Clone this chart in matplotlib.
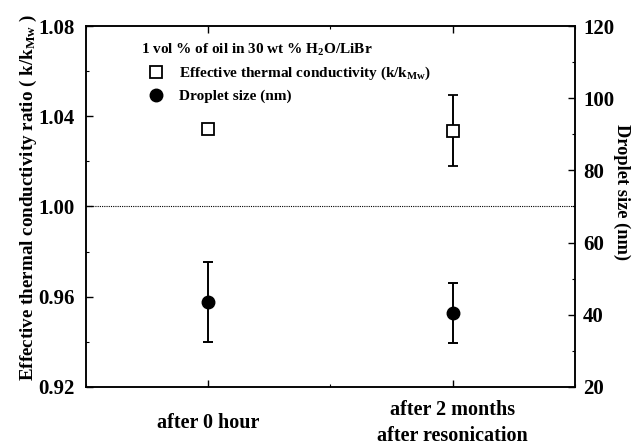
import matplotlib
matplotlib.use("Agg")
import matplotlib.pyplot as plt
from matplotlib.lines import Line2D
from matplotlib.ticker import MultipleLocator

plt.rcParams['font.family'] = ['Liberation Serif', 'DejaVu Serif']
plt.rcParams['font.weight'] = 'bold'
plt.rcParams['mathtext.fontset'] = 'custom'
plt.rcParams['mathtext.rm'] = 'Liberation Serif:bold'
plt.rcParams['mathtext.bf'] = 'Liberation Serif:bold'
plt.rcParams['mathtext.it'] = 'Liberation Serif:bold:italic'

# data
categories = ["after 0 hour", "after 2 months\nafter resonication"]
k_ratio = [1.0343, 1.0335]
k_ratio_err = [0.0015, 0.0157]
droplet_nm = [43.5, 40.5]
droplet_err = [11.0, 8.3]
ref_ratio = 1.00

x = [1, 2]

fig = plt.figure(figsize=(6.38, 4.46), dpi=100)
ax = fig.add_axes([0.135, 0.1323, 0.766, 0.8094])
ax2 = ax.twinx()

ax.axhline(ref_ratio, color='black', lw=0.8, ls=(0, (1, 1)))

ax.errorbar(x, k_ratio, yerr=k_ratio_err, fmt='s', color='black', mfc='white',
            mec='black', mew=1.3, ms=8, capsize=3.5, elinewidth=1.4, capthick=1.4, zorder=5)
ax2.errorbar(x, droplet_nm, yerr=droplet_err, fmt='o', color='black',
             ms=9, capsize=3.5, elinewidth=1.4, capthick=1.4, zorder=5)

ax.set_xlim(0.5, 2.5)
ax.set_ylim(0.92, 1.08)
ax2.set_ylim(20, 120)

ax.set_xticks(x)
ax.set_xticklabels(categories, fontsize=14.5, fontweight='bold', linespacing=1.4)
for lab in ax.get_xticklabels():
    lab.set_va('center')
ax.xaxis.set_minor_locator(MultipleLocator(0.5))
ax.set_yticks([0.92, 0.96, 1.00, 1.04, 1.08])
ax.set_yticklabels(["0.92", "0.96", "1.00", "1.04", "1.08"])
ax.yaxis.set_minor_locator(MultipleLocator(0.02))
ax2.yaxis.set_major_locator(MultipleLocator(20))
ax2.yaxis.set_minor_locator(MultipleLocator(10))

ax.tick_params(axis='both', which='both', direction='in', top=True, right=False)
ax.tick_params(axis='both', which='major', length=5, width=1.0)
ax.tick_params(axis='both', which='minor', length=2.5, width=0.8)
ax.tick_params(axis='x', which='major', pad=26)
ax.tick_params(axis='y', which='major', labelsize=15, pad=8)
ax2.tick_params(axis='y', which='both', direction='in')
ax2.tick_params(axis='y', which='major', length=5, width=1.0, labelsize=15, pad=6)
ax2.tick_params(axis='y', which='minor', length=2.5, width=0.8)

for a in (ax, ax2):
    for s in a.spines.values():
        s.set_linewidth(1.1)

ax.set_ylabel("Effective thermal conductivity ratio ( k/k$_{\\rm Mw}$ )",
              fontsize=13.7, fontweight='bold')
ax.yaxis.set_label_coords(-0.097, 0.526)
ax2.set_ylabel("Droplet size (nm)", fontsize=13.2, fontweight='bold',
               rotation=270, va='center')
ax2.yaxis.set_label_coords(1.095, 0.54)

handles = [
    Line2D([], [], marker='s', ls='none', mfc='white', mec='black', mew=1.3, ms=8),
    Line2D([], [], marker='o', ls='none', color='black', ms=9),
]
labels = ["Effective thermal conductivity (k/k$_{\\rm Mw}$)", "Droplet size (nm)"]
leg = ax.legend(handles, labels, title="1 vol % of oil in 30 wt % H$_2$O/LiBr",
                loc='upper left', bbox_to_anchor=(0.09, 0.985), frameon=False,
                prop={'size': 11, 'weight': 'bold'}, title_fontproperties={'size': 11, 'weight': 'bold'},
                handletextpad=0.5, labelspacing=0.45, borderpad=0.2)
leg._legend_box.align = 'left'

fig.savefig("out.png", dpi=100)
